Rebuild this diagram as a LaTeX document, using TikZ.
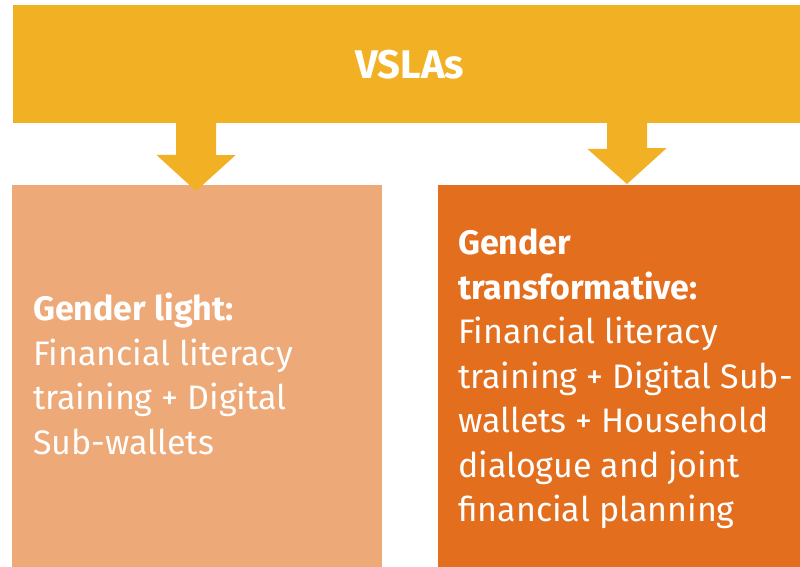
\documentclass[tikz,border=0pt]{standalone}
\usepackage{fontspec}
\setmainfont{Fira Sans}
\usetikzlibrary{positioning}
\definecolor{vslayellow}{HTML}{F2B124}
\definecolor{lightorange}{HTML}{EDA977}
\definecolor{darkorange}{HTML}{E36E1E}

\begin{document}
\begin{tikzpicture}[x=1pt,y=1pt,
  panel/.style={rectangle,inner sep=0pt,minimum height=382pt},
  boxtext/.style={inner sep=0pt,anchor=base west,align=left,text=white,
    font=\fontsize{34}{44.5}\selectfont},
  downarrow/.style={fill=vslayellow}]
  \useasboundingbox (0,0) rectangle (800,567);
  \node[rectangle,fill=vslayellow,inner sep=0pt,minimum width=787pt,minimum height=118pt] (bar) at (406.5,503) {};
  \node[text=white,font=\fontsize{40}{48}\selectfont\bfseries,xshift=3.5pt,yshift=-1pt]
    (title) at (bar.center) {VSLAs};
  \node[panel,fill=lightorange,minimum width=370pt] (light) at (197,191) {};
  \node[panel,fill=darkorange,minimum width=362pt] (transf) at (619,191) {};
  % texts (anchored at the last baseline)
  \node[boxtext] (lighttext) at (33,112.8)
    {\textbf{Gender light:}\\Financial literacy\\training + Digital\\Sub-wallets};
  \node[boxtext] (transftext) at (458,45)
    {\textbf{Gender}\\\textbf{transformative:}\\Financial literacy\\training + Digital Sub-\\wallets + Household\\dialogue and joint\\financial planning};
  % arrows
  \coordinate (ltip) at (196,376);
  \coordinate (rtip) at (627,383);
  \fill[downarrow] (ltip) -- ++(-39.5,36) -- ++(19.5,0) -- ([xshift=-20pt]bar.south -| ltip)
    -- ([xshift=20pt]bar.south -| ltip) -- ++(0,-32) -- ++(19.5,0) -- cycle;
  \fill[downarrow] (rtip) -- ++(-39.5,35) -- ++(19.5,0) -- ([xshift=-20pt]bar.south -| rtip)
    -- ([xshift=20pt]bar.south -| rtip) -- ++(0,-25) -- ++(19.5,0) -- cycle;
\end{tikzpicture}
\end{document}
